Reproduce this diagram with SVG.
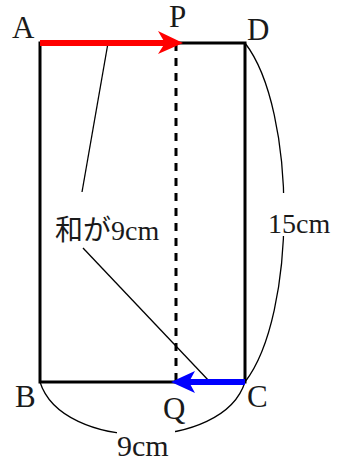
<svg xmlns="http://www.w3.org/2000/svg" width="342" height="461" viewBox="0 0 342 461">
<style>
.lbl{font-family:'Liberation Serif',serif;fill:#1a1a1a}
.cjk{font-family:'Liberation Serif','Noto Sans CJK JP',serif;fill:#1a1a1a}
.pt{font-size:31px}
.s28{font-size:28px}
.s30{font-size:30px}
.thin{fill:none;stroke:#000;stroke-width:1.3}
</style>
<rect width="342" height="461" fill="#fff"/>
<g id="rectangle">
<rect x="40" y="43" width="205" height="339" fill="none" stroke="#000" stroke-width="3"/>
</g>
<g id="connectors">
<line x1="176" y1="43" x2="176" y2="382" stroke="#000" stroke-width="3" stroke-dasharray="8 7"/>
<path class="thin" d="M245,43 C297,110 297,315 245,382"/>
<path class="thin" d="M40,382 C62,452 223,452 245,382"/>
<line class="thin" x1="108" y1="43" x2="82" y2="192"/>
<line class="thin" x1="83" y1="248" x2="210" y2="382"/>
<line x1="40" y1="43" x2="168" y2="43" stroke="#ff0000" stroke-width="6"/>
<polygon points="183,43 158,31 165,43 158,54" fill="#ff0000"/>
<line x1="245" y1="382" x2="185" y2="382" stroke="#0000ff" stroke-width="6"/>
<polygon points="171,382 195,371 189,382 195,393" fill="#0000ff"/>
</g>
<g id="labels">
<rect x="266" y="193" width="68" height="43" fill="#fff"/>
<rect x="117" y="428" width="58" height="33" fill="#fff"/>
<text class="lbl pt" x="12" y="38">A</text>
<text class="lbl pt" x="169" y="27">P</text>
<text class="lbl pt" x="247" y="40">D</text>
<text class="lbl pt" x="15" y="407">B</text>
<text class="lbl pt" x="163" y="419">Q</text>
<text class="lbl pt" x="247" y="407">C</text>
<text class="cjk s28" x="55" y="240">和が9cm</text>
<text class="lbl s28" x="268" y="233">15cm</text>
<text class="lbl s30" x="117" y="456">9cm</text>
</g>
</svg>
